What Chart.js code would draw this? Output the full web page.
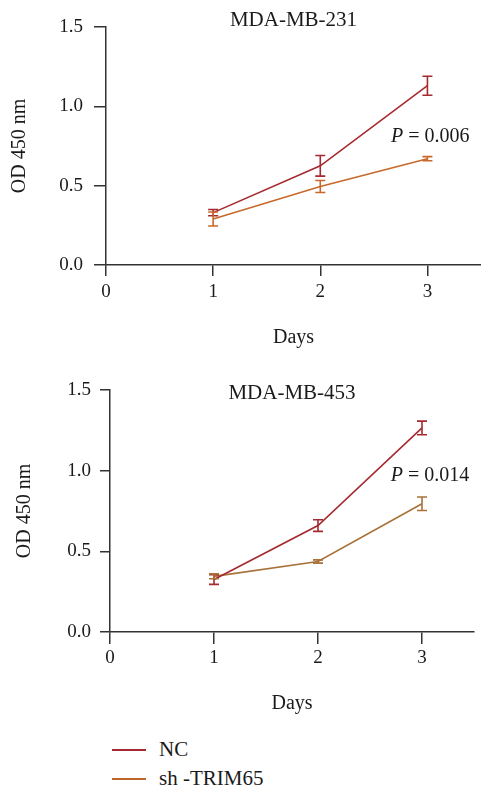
<!DOCTYPE html>
<html>
<head>
<meta charset="utf-8">
<script src="https://cdn.jsdelivr.net/npm/chart.js@4"></script>
<style>
  body { margin: 0; background: #fff; width: 481px; height: 791px; position: relative; overflow: hidden; font-family: "Liberation Serif", serif; }
  #wrap1 { position: absolute; left: 0; top: 0; }
  #wrap2 { position: absolute; left: 0; top: 363px; }
  #legend { position: absolute; left: 112px; top: 735px; font-size: 21px; color: #1a1a1a; }
  .item { height: 29px; display: flex; align-items: center; }
  .item .l { display: inline-block; width: 34px; border-top: 2px solid; margin-right: 13px; }
</style>
</head>
<body>
<div id="wrap1"><canvas id="chart231" width="481" height="350"></canvas></div>
<div id="wrap2"><canvas id="chart453" width="481" height="353"></canvas></div>
<div id="legend"></div>
<script>
var days = [1, 2, 3];
var xTicks = [0, 1, 2, 3];
var seriesNames = ['NC', 'sh -TRIM65'];

// MDA-MB-231
var nc231 = [0.33, 0.625, 1.13];
var nc231Err = [0.02, 0.065, 0.06];
var sh231 = [0.29, 0.495, 0.67];
var sh231Err = [0.044, 0.038, 0.013];

// MDA-MB-453
var nc453 = [0.325, 0.66, 1.265];
var nc453Err = [0.03, 0.036, 0.042];
var sh453 = [0.345, 0.437, 0.795];
var sh453Err = [0.015, 0.01, 0.042];

var ncColor = '#a52a30';
var sh231Color = '#c8692a';
var sh453Color = '#a87238';
var axisColor = '#333';
var textColor = '#1a1a1a';
var serif = '"Liberation Serif", "Times New Roman", serif';

// error bars, panel title and P value, all placed through the chart scales
var panelPlugin = {
  id: 'panel',
  afterDatasetsDraw: function(chart, args, opts) {
    var ctx = chart.ctx;
    var xs = chart.scales.x, ys = chart.scales.y;
    ctx.save();
    chart.data.datasets.forEach(function(ds) {
      ctx.strokeStyle = ds.borderColor;
      ctx.lineWidth = 1.6;
      ds.data.forEach(function(pt, i) {
        var e = ds.errors[i];
        var px = xs.getPixelForValue(pt.x);
        var top = ys.getPixelForValue(pt.y + e);
        var bot = ys.getPixelForValue(pt.y - e);
        ctx.beginPath();
        ctx.moveTo(px, top); ctx.lineTo(px, bot);
        ctx.moveTo(px - 5, top); ctx.lineTo(px + 5, top);
        ctx.moveTo(px - 5, bot); ctx.lineTo(px + 5, bot);
        ctx.stroke();
      });
    });
    var area = chart.chartArea;
    ctx.fillStyle = textColor;
    ctx.textBaseline = 'middle';
    ctx.textAlign = 'center';
    ctx.font = '21px ' + serif;
    ctx.fillText(opts.title, (area.left + area.right) / 2, area.top + opts.titleDy);
    var tx = xs.getPixelForValue(opts.pX), ty = ys.getPixelForValue(opts.pY);
    ctx.textAlign = 'left';
    ctx.font = 'italic 20px ' + serif;
    ctx.fillText('P', tx, ty);
    var w = ctx.measureText('P').width;
    ctx.font = '20px ' + serif;
    ctx.fillText(' = ' + opts.pValue, tx + w, ty);
    ctx.restore();
  }
};

function makeSeries(vals) {
  return vals.map(function(v, i) { return {x: days[i], y: v}; });
}

function makeChart(id, ncVals, ncErr, shVals, shErr, shColor, opt) {
  var ctx = document.getElementById(id).getContext('2d');
  return new Chart(ctx, {
    type: 'line',
    data: {
      datasets: [
        {label: seriesNames[0], data: makeSeries(ncVals), errors: ncErr, borderColor: ncColor, borderWidth: 1.6, pointRadius: 0, tension: 0, clip: false},
        {label: seriesNames[1], data: makeSeries(shVals), errors: shErr, borderColor: shColor, borderWidth: 1.6, pointRadius: 0, tension: 0, clip: false}
      ]
    },
    plugins: [panelPlugin],
    options: {
      responsive: false,
      animation: false,
      layout: {padding: {top: 27, left: 0, right: opt.padRight, bottom: 0}},
      plugins: {
        legend: {display: false},
        tooltip: {enabled: false},
        panel: {title: opt.title, titleDy: opt.titleDy, pX: opt.pX, pY: opt.pY, pValue: opt.pValue}
      },
      scales: {
        x: {
          type: 'linear',
          min: 0,
          max: 3.5,
          afterBuildTicks: function(axis) {
            axis.ticks = xTicks.map(function(v) { return {value: v}; });
          },
          afterFit: function(s) { s.height = opt.xHeight; },
          grid: {drawOnChartArea: false, drawTicks: true, tickLength: opt.xTick, color: axisColor, lineWidth: 1.5},
          border: {color: axisColor, width: 1.5},
          ticks: {color: textColor, padding: opt.xPad, font: {family: serif, size: 19}, maxRotation: 0,
            callback: function(v) { return String(v); }},
          title: {display: true, text: 'Days', color: textColor, font: {family: serif, size: 20}, padding: {top: 0, bottom: 0}}
        },
        y: {
          min: 0,
          max: 1.5,
          afterFit: function(s) { s.width = opt.yWidth; },
          grid: {drawOnChartArea: false, drawTicks: true, tickLength: opt.yTick, color: axisColor, lineWidth: 1.5},
          border: {color: axisColor, width: 1.5},
          ticks: {stepSize: 0.5, color: textColor, padding: opt.yPad, font: {family: serif, size: 19},
            callback: function(v) { return v.toFixed(1); }},
          title: {display: true, text: 'OD 450 nm', color: textColor, font: {family: serif, size: 20}, padding: {top: opt.yTitlePad, bottom: 0}}
        }
      }
    }
  });
}

makeChart('chart231', nc231, nc231Err, sh231, sh231Err, sh231Color,
  {title: 'MDA-MB-231', titleDy: -7, pX: 2.66, pY: 0.81, pValue: '0.006', padRight: 0,
   xHeight: 85, xTick: 11, xPad: 5, yWidth: 106, yTick: 12, yPad: 11, yTitlePad: 8});

makeChart('chart453', nc453, nc453Err, sh453, sh453Err, sh453Color,
  {title: 'MDA-MB-453', titleDy: 3, pX: 2.70, pY: 0.97, pValue: '0.014', padRight: 7,
   xHeight: 84, xTick: 12, xPad: 3, yWidth: 110, yTick: 10, yPad: 9, yTitlePad: 13});

// legend
var legendColors = [ncColor, '#c0652a'];
document.getElementById('legend').innerHTML = seriesNames.map(function(n, i) {
  return '<div class="item"><span class="l" style="border-color:' + legendColors[i] + '"></span>' + n + '</div>';
}).join('');
</script>
</body>
</html>
